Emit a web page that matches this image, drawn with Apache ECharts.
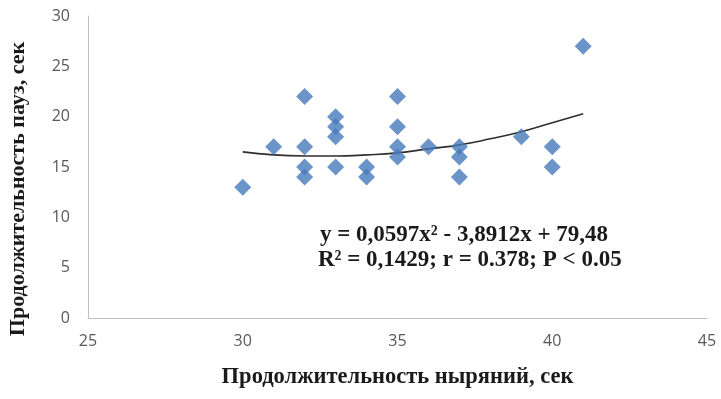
<!DOCTYPE html>
<html>
<head>
<meta charset="utf-8">
<script src="https://cdn.jsdelivr.net/npm/echarts@6/dist/echarts.min.js"></script>
<style>
  html, body { margin: 0; padding: 0; background: #fff; }
  #chart { width: 721px; height: 399px; }
</style>
</head>
<body>
<div id="chart"></div>
<script>
// длительность ныряний (x) и пауз (y), сек
const diveDur = [30, 31, 32, 32, 32, 32, 33, 33, 33, 33, 34, 34, 35, 35, 35, 35, 36, 37, 37, 37, 39, 40, 40, 41]
const pauseDur = [13, 17, 22, 17, 15, 14, 20, 19, 18, 15, 15, 14, 22, 19, 17, 16, 17, 17, 16, 14, 18, 17, 15, 27]

// полиномиальная линия тренда
const trendX = [30, 31, 32, 33, 34, 35, 36, 37, 38, 39, 40, 41]
const trendY = [16.5, 16.2, 16.1, 16.1, 16.2, 16.4, 16.8, 17.2, 17.8, 18.5, 19.4, 20.3]

const eqLine1 = 'y = 0,0597x² - 3,8912x + 79,48'
const eqLine2 = 'R² = 0,1429; r = 0.378; P < 0.05'
const xTitle = 'Продолжительность ныряний, сек'
const yTitle = 'Продолжительность пауз, сек'

const chart = echarts.init(document.getElementById('chart'))

const serif = '"Liberation Serif", "DejaVu Serif", serif'
const sans = '"Open Sans", "Liberation Sans", sans-serif'
const axisColor = '#bfbfbf'
const titleFont = 'bold 22px ' + serif
const eqFont = 'bold 23px ' + serif

chart.setOption({
  animation: false,
  grid: { left: 88, right: 14, top: 16, bottom: 81 },
  xAxis: {
    type: 'value',
    min: 25,
    max: 45,
    interval: 5,
    name: xTitle,
    nameLocation: 'middle',
    nameGap: 48,
    nameTextStyle: { fontFamily: serif, fontWeight: 'bold', fontSize: 22.5, color: '#1a1a1a' },
    axisLine: { lineStyle: { color: axisColor, width: 1 } },
    axisTick: { show: false },
    splitLine: { show: false },
    axisLabel: { fontFamily: sans, fontSize: 16, color: '#595959', margin: 15 }
  },
  yAxis: {
    type: 'value',
    min: 0,
    max: 30,
    interval: 5,
    axisLine: { show: true, lineStyle: { color: axisColor, width: 1 } },
    axisTick: { show: false },
    splitLine: { show: false },
    axisLabel: { fontFamily: sans, fontSize: 16, color: '#595959', margin: 18 }
  },
  graphic: [
    {
      // подпись оси Y сдвинута вниз относительно центра, как в оригинале
      type: 'text',
      x: 18,
      y: 189,
      rotation: Math.PI / 2,
      style: { text: yTitle, font: titleFont, fill: '#1a1a1a', align: 'center', verticalAlign: 'middle' }
    },
    {
      type: 'text',
      left: 320,
      top: 224,
      style: { text: eqLine1, font: eqFont, fill: '#1a1a1a' }
    },
    {
      type: 'text',
      left: 318,
      top: 249,
      style: { text: eqLine2, font: eqFont, fill: '#1a1a1a' }
    }
  ],
  series: [
    {
      type: 'line',
      data: trendX.map((x, i) => [x, trendY[i]]),
      smooth: true,
      showSymbol: false,
      lineStyle: { color: '#2e2e2e', width: 1.6 },
      z: 1
    },
    {
      type: 'scatter',
      data: diveDur.map((x, i) => [x, pauseDur[i]]),
      symbol: 'diamond',
      symbolSize: [17, 17],
      itemStyle: { color: '#4679bb' },
      z: 2
    }
  ]
})
</script>
</body>
</html>
